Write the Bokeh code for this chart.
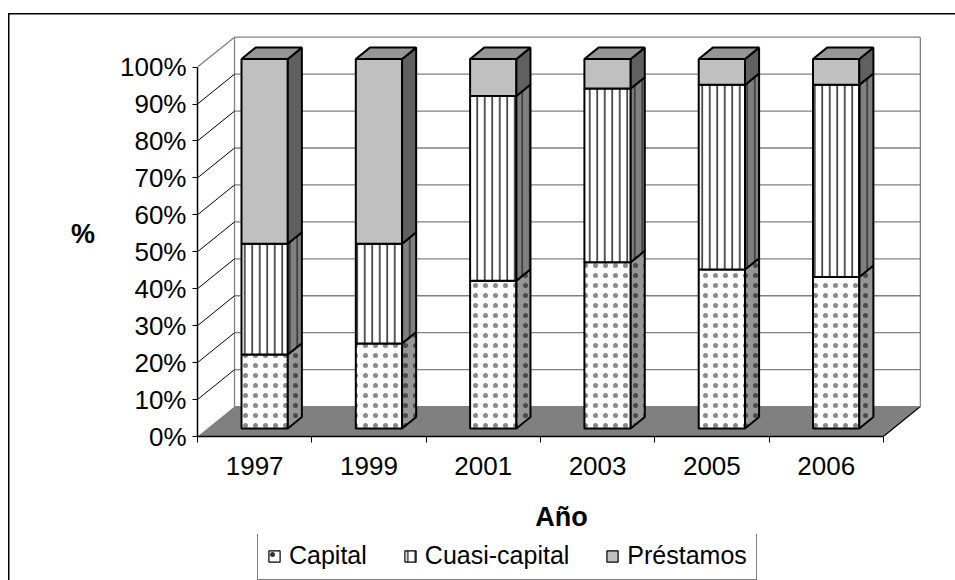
from bokeh.plotting import figure
from bokeh.layouts import column
from bokeh.models import (Range1d, LinearAxis, FixedTicker, PrintfTickFormatter,
                          Legend, LegendItem, ColumnDataSource)
from bokeh.embed import file_html
from bokeh.resources import INLINE

# ---------------- data ----------------
years = ["1997", "1999", "2001", "2003", "2005", "2006"]
capital = [20, 23, 40, 45, 43, 41]
cuasi_capital = [30, 27, 50, 47, 50, 52]
prestamos = [50, 50, 10, 8, 7, 7]
series_names = ["Capital", "Cuasi-capital", "Préstamos"]
y_ticks = [0, 10, 20, 30, 40, 50, 60, 70, 80, 90, 100]

# ---------------- style ----------------
FONT = "Liberation Sans"
DX, DY = 0.324, 8.1        # depth of the 3-D box (data units)
F0, F1 = 0.27, 0.65        # front / back depth fraction of the bars
HW = 0.2025                # half bar width (category units)
front_fill = ["white", "white", "#C0C0C0"]
side_fill = ["#969696", "#808080", "#606060"]
hatch = ["dot", "vertical_line", None]
hatch_scale = [10, 7.5, 12]
hatch_weight = [1, 1.5, 1]
front_hatch_color = ["#8a8a8a", "#222222", None]
side_hatch_color = ["#4a4a4a", "#333333", None]
TOP_FILL = "#969696"

n = len(years)
ymax = max(y_ticks)


def style_kw(k, color):
    if hatch[k] is None:
        return {}
    return dict(hatch_pattern=hatch[k], hatch_color=color,
                hatch_scale=hatch_scale[k], hatch_weight=hatch_weight[k])


p = figure(width=955, height=534, output_backend="svg", toolbar_location=None,
           x_range=Range1d(0, n + DX + 0.045), y_range=Range1d(0, ymax + DY + 1.8),
           x_axis_type=None, y_axis_type=None,
           min_border_left=197, min_border_right=30, min_border_top=30, min_border_bottom=98)
p.outline_line_color = None
p.background_fill_color = "white"
p.border_fill_color = None

# floor
p.patch(x=[0, n, n + DX, DX], y=[0, 0, DY, DY], fill_color="#808080", line_color=None)
p.segment(x0=[n], y0=[0], x1=[n + DX], y1=[DY], line_color="black", line_width=1.2)

# back wall gridlines and edges
p.segment(x0=[DX] * len(y_ticks), y0=[v + DY for v in y_ticks],
          x1=[n + DX] * len(y_ticks), y1=[v + DY for v in y_ticks],
          line_color="#808080", line_width=1.3)
p.segment(x0=[DX, n + DX], y0=[DY, DY], x1=[DX, n + DX], y1=[ymax + DY, ymax + DY],
          line_color="#808080", line_width=1.3)
# side wall gridlines
inner = [v for v in y_ticks if 0 < v < ymax]
p.segment(x0=[0] * len(inner), y0=inner, x1=[DX] * len(inner), y1=[v + DY for v in inner],
          line_color="black", line_width=1)
p.segment(x0=[0], y0=[ymax], x1=[DX], y1=[ymax + DY], line_color="#808080", line_width=1.3)

# bars
fx, fy = F0 * DX, F0 * DY
bx, by = F1 * DX, F1 * DY
bottom = [0] * n
for k, vals in enumerate([capital, cuasi_capital, prestamos]):
    top = [b + v for b, v in zip(bottom, vals)]
    left = [i + 0.5 - HW + fx for i in range(n)]
    right = [i + 0.5 + HW + fx for i in range(n)]
    src = ColumnDataSource(dict(left=left, right=right,
                                bottom=[b + fy for b in bottom], top=[t + fy for t in top]))
    p.quad(left="left", right="right", bottom="bottom", top="top", source=src,
           fill_color=front_fill[k], line_color="black", line_width=2,
           **style_kw(k, front_hatch_color[k]))
    xr = [i + 0.5 + HW for i in range(n)]
    sxs = [[x + fx, x + fx, x + bx, x + bx] for x in xr]
    sys_ = [[b + fy, t + fy, t + by, b + by] for b, t in zip(bottom, top)]
    p.patches(xs=sxs, ys=sys_, fill_color=side_fill[k], line_color="black", line_width=2,
              **style_kw(k, side_hatch_color[k]))
    bottom = top

# top faces
txs = [[i + 0.5 - HW + fx, i + 0.5 + HW + fx, i + 0.5 + HW + bx, i + 0.5 - HW + bx] for i in range(n)]
tys = [[t + fy, t + fy, t + by, t + by] for t in bottom]
p.patches(xs=txs, ys=tys, fill_color=TOP_FILL, line_color="black", line_width=2)

# axes
yaxis = LinearAxis(ticker=FixedTicker(ticks=y_ticks, minor_ticks=[]),
                   formatter=PrintfTickFormatter(format="%d%%"), bounds=(0, ymax),
                   axis_label="%", axis_label_orientation="horizontal")
yaxis.axis_line_color = "black"
yaxis.axis_line_width = 1.5
yaxis.major_tick_out = 5
yaxis.major_tick_in = 0
yaxis.major_tick_line_color = "black"
yaxis.major_label_standoff = 6
yaxis.major_label_text_font = FONT
yaxis.major_label_text_font_size = "26px"
yaxis.major_label_text_color = "black"
yaxis.axis_label_text_font = FONT
yaxis.axis_label_text_font_size = "27px"
yaxis.axis_label_text_font_style = "bold"
yaxis.axis_label_text_color = "black"
yaxis.axis_label_standoff = 22
p.add_layout(yaxis, "left")

xaxis = LinearAxis(ticker=FixedTicker(ticks=[i + 0.5 for i in range(n)],
                                      minor_ticks=list(range(n + 1))),
                   major_label_overrides={i + 0.5: y for i, y in enumerate(years)},
                   bounds=(0, n), axis_label="Año")
xaxis.axis_line_color = "black"
xaxis.axis_line_width = 1.5
xaxis.major_tick_out = 0
xaxis.major_tick_in = 0
xaxis.minor_tick_out = 6
xaxis.minor_tick_in = 0
xaxis.minor_tick_line_color = "black"
xaxis.major_label_standoff = 14
xaxis.major_label_text_font = FONT
xaxis.major_label_text_font_size = "26px"
xaxis.major_label_text_color = "black"
xaxis.axis_label_text_font = FONT
xaxis.axis_label_text_font_size = "27px"
xaxis.axis_label_text_font_style = "bold"
xaxis.axis_label_text_color = "black"
xaxis.axis_label_standoff = 24
p.add_layout(xaxis, "below")

# ---------------- legend strip ----------------
lf = figure(width=955, height=46, output_backend="svg", toolbar_location=None,
            x_axis_type=None, y_axis_type=None, min_border=0,
            x_range=Range1d(0, 1), y_range=Range1d(0, 1))
lf.outline_line_color = None
lf.background_fill_color = None
lf.border_fill_color = None
swatches = []
for k in range(3):
    # zero-size off-range marks: only used for the legend swatches
    swatches.append(lf.quad(left=[-1], right=[-1], bottom=[-1], top=[-1], fill_color=front_fill[k],
                            line_color="black", line_width=1.2,
                            **style_kw(k, "#333333")))
legend = Legend(items=[LegendItem(label=s, renderers=[r]) for s, r in zip(series_names, swatches)],
                orientation="horizontal", location=(60, 0))
legend.label_text_font = FONT
legend.label_text_font_size = "25px"
legend.label_text_color = "black"
legend.glyph_width = 14
legend.glyph_height = 14
legend.label_standoff = 8
legend.spacing = 36
legend.padding = 9
legend.margin = 0
legend.border_line_color = "black"
legend.border_line_width = 1
legend.background_fill_color = "white"
lf.add_layout(legend)

layout = column(p, lf, spacing=0)
layout.styles = {
    "background": "linear-gradient(#000, #000) 8px 13px / 1.5px 100% no-repeat, "
                  "linear-gradient(#000, #000) 8px 13px / 100% 1.5px no-repeat, #ffffff"
}
open("out.html", "w").write(file_html(layout, INLINE))
